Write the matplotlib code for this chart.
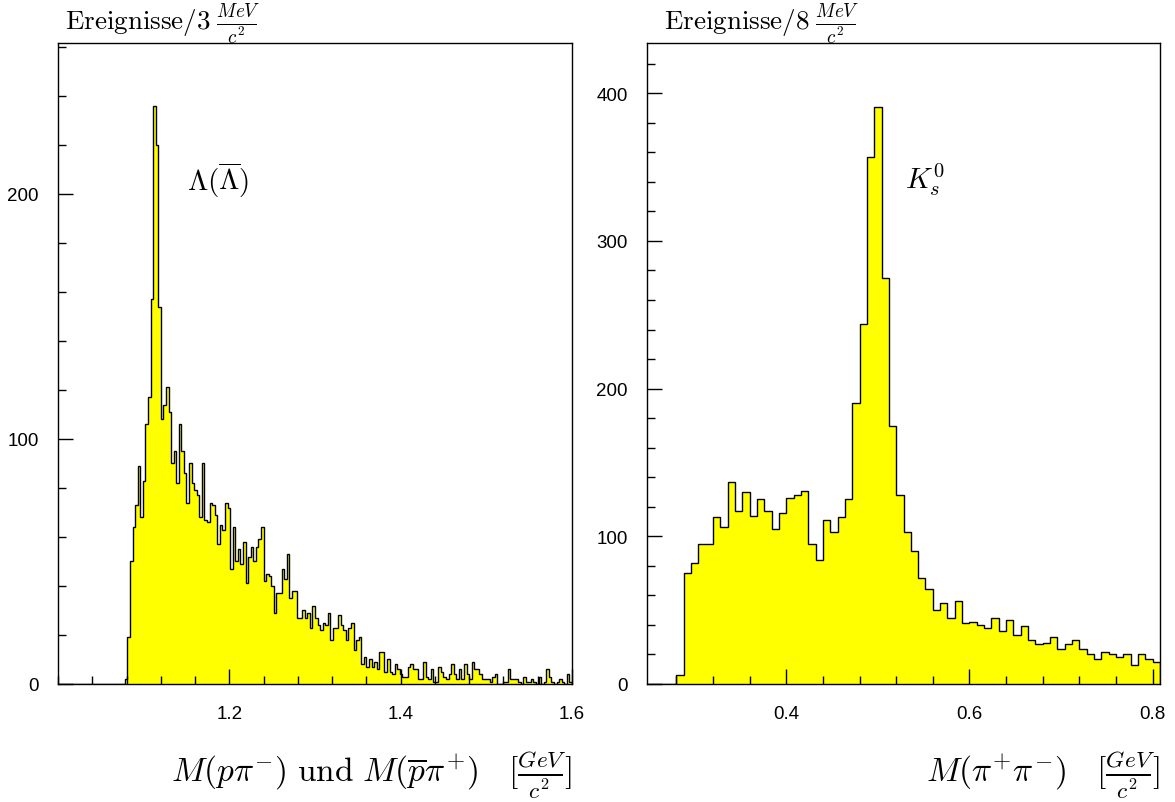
import numpy as np
import matplotlib
matplotlib.use("Agg")
import matplotlib.pyplot as plt
from matplotlib.ticker import MultipleLocator

# ---------------- data ----------------
# Lambda candidates: M(p pi-) histogram, 3 MeV bins from 1.000 to 1.600 GeV
lam_range = (1.0, 1.6)
lam_bin = 0.003
lam_first_bin = 26          # index of first listed bin (bins before are empty)
lam_counts = [
    2, 19, 50, 64, 73, 89, 68, 83, 106, 117,
    157, 236, 220, 154, 108, 114, 121, 111, 90, 95,
    82, 106, 95, 86, 74, 90, 82, 79, 77, 68,
    90, 67, 66, 74, 73, 69, 57, 65, 63, 74,
    72, 47, 64, 50, 55, 49, 58, 41, 52, 56,
    50, 56, 59, 64, 42, 45, 44, 40, 29, 37,
    37, 47, 43, 53, 35, 38, 38, 27, 27, 30,
    27, 29, 23, 32, 27, 24, 22, 25, 24, 29,
    18, 23, 23, 28, 24, 22, 18, 23, 25, 14,
    18, 19, 8, 11, 7, 10, 7, 9, 6, 13,
    13, 5, 10, 5, 4, 8, 6, 4, 3, 3,
    7, 8, 6, 6, 2, 2, 9, 3, 2, 6,
    1, 1, 7, 5, 3, 2, 4, 8, 4, 2,
    6, 2, 8, 4, 2, 9, 6, 6, 4, 2,
    2, 2, 1, 3, 4, 0, 0, 1, 1, 6,
    2, 2, 2, 1, 0, 3, 1, 1, 2, 1,
    0, 3, 0, 1, 6, 3, 1, 0, 1, 2,
    1, 0, 4, 1,
]

# K0s candidates: M(pi+ pi-) histogram, 8 MeV bins from 0.248 to 0.808 GeV
k0_range = (0.248, 0.808)
k0_bin = 0.008
k0_first_bin = 4
k0_counts = [
    6, 75, 82, 95, 95, 113, 106, 137, 117, 130,
    114, 125, 117, 105, 116, 126, 128, 131, 95, 84,
    111, 103, 113, 125, 190, 244, 357, 391, 275, 175,
    128, 103, 90, 72, 64, 50, 55, 45, 56, 41,
    42, 40, 38, 45, 36, 43, 33, 39, 30, 27,
    28, 32, 24, 27, 30, 24, 20, 17, 22, 20,
    18, 20, 13, 20, 17, 15,
]

lam_ylim = 261.5
k0_ylim = 434

lam_xticks = [1.2, 1.4, 1.6]
k0_xticks = [0.4, 0.6, 0.8]
lam_yticks = [0, 100, 200]
k0_yticks = [0, 100, 200, 300, 400]

lam_ylabel = r"$\mathrm{Ereignisse/3}\;\frac{MeV}{c^2}$"
k0_ylabel = r"$\mathrm{Ereignisse/8}\;\frac{MeV}{c^2}$"
lam_xlabel = r"$M(p\pi^{-})\ \mathrm{und}\ M(\overline{p}\pi^{+})\quad[\frac{GeV}{c^2}]$"
k0_xlabel = r"$M(\pi^{+}\pi^{-})\quad[\frac{GeV}{c^2}]$"
lam_text = r"$\Lambda(\overline{\Lambda})$"
k0_text = r"$K_s^0$"

# ---------------- style ----------------
plt.rcParams["mathtext.fontset"] = "cm"
plt.rcParams["font.family"] = ["Liberation Sans", "DejaVu Sans"]

W, H = 1175, 803
fig = plt.figure(figsize=(W / 100, H / 100), dpi=100)

def px_axes(x0, x1, y0, y1):
    return fig.add_axes([x0 / W, 1 - y1 / H, (x1 - x0) / W, (y1 - y0) / H])

axL = px_axes(58, 572, 44, 685)
axR = px_axes(647, 1160, 44, 685)

def draw_hist(ax, xr, width, first, counts):
    nb = int(round((xr[1] - xr[0]) / width))
    full = np.zeros(nb)
    full[first:first + len(counts)] = counts
    edges = xr[0] + width * np.arange(nb + 1)
    ax.stairs(full, edges, fill=True, color="#ffff00", lw=0)
    ax.stairs(full, edges, fill=False, color="black", lw=1.0, baseline=0)

draw_hist(axL, lam_range, lam_bin, lam_first_bin, lam_counts)
draw_hist(axR, k0_range, k0_bin, k0_first_bin, k0_counts)

def style(ax, xr, ylim, xticks, yticks, xminor):
    ax.set_xlim(*xr)
    ax.set_ylim(0, ylim)
    ax.set_xticks(xticks)
    ax.set_xticklabels([f"{t:.1f}" for t in xticks])
    ax.set_yticks(yticks)
    ax.set_yticklabels([str(t) for t in yticks])
    ax.xaxis.set_minor_locator(MultipleLocator(xminor))
    ax.yaxis.set_minor_locator(MultipleLocator(20))
    ax.tick_params(which="both", direction="in", top=False, right=False,
                   labelsize=13.5, width=1.0, color="black")
    ax.tick_params(which="major", length=11)
    ax.tick_params(which="minor", length=6)
    ax.tick_params(axis="x", which="major", pad=15)
    ax.tick_params(axis="y", which="major", pad=14)
    for s in ax.spines.values():
        s.set_linewidth(1.0)

style(axL, lam_range, lam_ylim, lam_xticks, lam_yticks, 0.04)
style(axR, k0_range, k0_ylim, k0_xticks, k0_yticks, 0.04)

axL.text(1.187, 206, lam_text, fontsize=21, ha="center", va="center")
axR.text(0.551, 342, k0_text, fontsize=21, ha="center", va="center")

fig.text(65 / W, 1 - 29 / H, lam_ylabel, fontsize=19.5, ha="left", va="baseline")
fig.text(664 / W, 1 - 29 / H, k0_ylabel, fontsize=19.5, ha="left", va="baseline")
fig.text(572 / W, 1 - 801 / H, lam_xlabel, fontsize=24, ha="right", va="bottom")
fig.text(1160 / W, 1 - 801 / H, k0_xlabel, fontsize=24, ha="right", va="bottom")

fig.savefig("out.png", dpi=100)
